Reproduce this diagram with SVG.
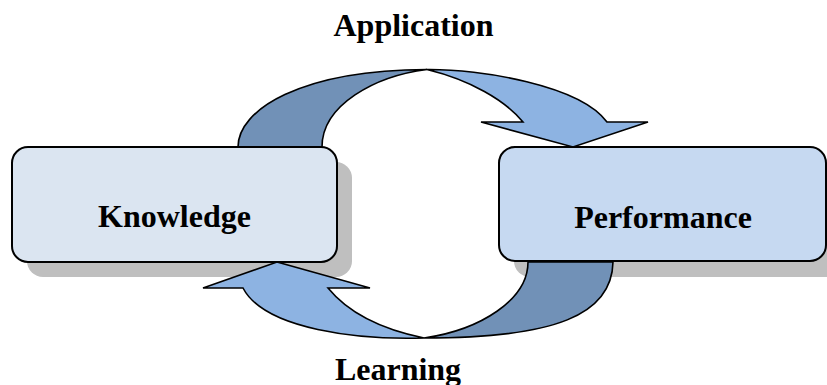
<svg xmlns="http://www.w3.org/2000/svg" width="827" height="385" viewBox="0 0 827 385">
<style>
.shadow{fill:#bfbfbf}
.box{stroke:#000;stroke-width:2}
.dark{fill:#7191b7;stroke:#000;stroke-width:1.6;stroke-linejoin:miter}
.light{fill:#8db3e2;stroke:#000;stroke-width:1.6;stroke-linejoin:miter}
.lbl{font-family:"Liberation Serif","Times New Roman",serif;font-weight:bold;font-size:32px;fill:#000;text-anchor:middle}
</style>
<rect width="827" height="385" fill="#fff"/>
<g id="shadows">
<rect class="shadow" x="27" y="162" width="325" height="115" rx="16"/>
<rect class="shadow" x="514" y="162" width="330" height="115" rx="16"/>
</g>
<g id="connectors">
<g id="application-arrow">
<path class="dark" d="M238,147 C238,110 300,70 427,69.5 C375,76 322,105 322,147 Z"/>
<path class="light" d="M427,69.5 C480,69 580,85 607,122 L648,122 L573,147 L481,122 L523,122 C505,100 470,80 427,69.5 Z"/>
</g>
<g id="learning-arrow">
<path class="dark" d="M613,262 C612,315 555,338 424,338 C480,330 528,300 528,262 Z"/>
<path class="light" d="M277,262 L370,288 L328,288 C350,315 385,330 424,338 C360,340 265,330 243,288 L203,288 Z"/>
</g>
</g>
<g id="knowledge">
<rect class="box" x="12" y="147" width="325" height="115" rx="16" fill="#dbe5f1"/>
<text class="lbl" x="174.5" y="227">Knowledge</text>
</g>
<g id="performance">
<rect class="box" x="499" y="147" width="327" height="114" rx="16" fill="#c6d9f1"/>
<text class="lbl" x="663" y="228">Performance</text>
</g>
<g id="labels">
<text class="lbl" x="413.5" y="36">Application</text>
<text class="lbl" x="398" y="380">Learning</text>
</g>
</svg>
